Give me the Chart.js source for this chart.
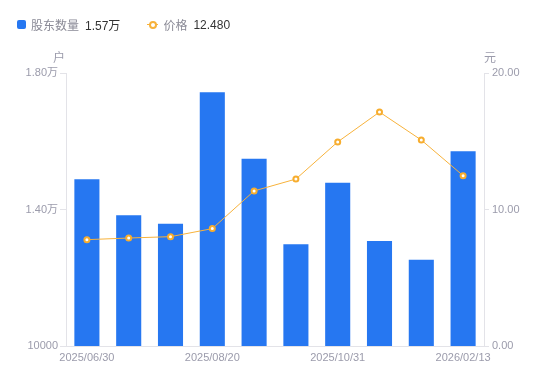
<!DOCTYPE html>
<html><head><meta charset="utf-8">
<script src="https://cdn.jsdelivr.net/npm/chart.js@4/dist/chart.umd.min.js"></script>
<style>
html,body{margin:0;padding:0;background:#fff;}
#wrap{position:relative;width:550px;height:381px;}
#legend{position:absolute;left:17px;top:16px;font-family:'Liberation Sans','Noto Sans CJK SC',sans-serif;font-size:12px;display:flex;align-items:center;white-space:nowrap;}
.item{display:flex;align-items:center;margin-right:27px;}
.sq{width:9px;height:9px;background:#2677f1;border-radius:2px;margin-right:5px;}
.ln{position:relative;width:11px;height:10px;margin-right:5px;}
.ln:before{content:'';position:absolute;left:0;right:0;top:4.5px;height:1px;background:#f7b23b;}
.ln:after{content:'';position:absolute;left:2px;top:1px;width:4px;height:4px;border:2px solid #f7b23b;border-radius:50%;background:#fff;}
.nm{color:#8a8a96;margin-right:6px;}
.vl{color:#333;}
</style></head>
<body><div id="wrap"><div id="legend"></div><canvas id="c" width="550" height="381"></canvas></div>
<script>
const categories = ['2025/06/30','2025/07/10','2025/07/31','2025/08/20','2025/09/10','2025/09/30','2025/10/31','2025/12/10','2026/01/09','2026/02/13'];
const holders = [14885, 13830, 13584, 17434, 15489, 12980, 14786, 13077, 12530, 15705];
const prices = [7.79, 7.91, 8.01, 8.60, 11.36, 12.23, 14.95, 17.14, 15.09, 12.48];
const leftTicks = [10000, 14000, 18000];
const rightTicks = [0, 10, 20];
const seriesNames = ['股东数量', '价格'];
const units = ['户', '元'];

const leg = document.getElementById('legend');
leg.innerHTML =
  '<div class="item"><div class="sq"></div><span class="nm">'+seriesNames[0]+'</span><span class="vl">'+(holders[holders.length-1]/10000).toFixed(2)+'万</span></div>'+
  '<div class="item"><div class="ln"></div><span class="nm">'+seriesNames[1]+'</span><span class="vl">'+prices[prices.length-1].toFixed(3)+'</span></div>';

const gray = '#9b9bab';
const axisColor = '#e3e3e8';
const font = {family:"'Liberation Sans','Noto Sans CJK SC',sans-serif", size:11};

const unitPlugin = {
  id:'units',
  afterDraw(chart){
    const ctx = chart.ctx;
    const yl = chart.scales.yL, yr = chart.scales.yR;
    ctx.save();
    ctx.fillStyle = gray;
    ctx.font = "12px 'Noto Sans CJK SC',sans-serif";
    ctx.textBaseline = 'middle';
    ctx.textAlign = 'center';
    ctx.fillText(units[0], yl.right - 7, 57);
    ctx.fillText(units[1], yr.left + 6, 57);
    ctx.restore();
  }
};

new Chart(document.getElementById('c'), {
  data:{
    labels:categories,
    datasets:[
      {type:'line', label:seriesNames[1], data:prices, yAxisID:'yR', borderColor:'#f7b23b', borderWidth:1,
       pointRadius:2.5, pointBorderWidth:2, pointBackgroundColor:'#fff', pointBorderColor:'#f7ad2e', tension:0, order:0},
      {type:'bar', label:seriesNames[0], data:holders, yAxisID:'yL', backgroundColor:'#2677f1',
       barPercentage:0.6, categoryPercentage:1, order:1}
    ]
  },
  options:{
    responsive:false, animation:false,
    layout:{padding:{top:73, left:0, right:0, bottom:0}},
    plugins:{legend:{display:false}, tooltip:{enabled:false}},
    scales:{
      x:{
        grid:{display:false, drawTicks:false},
        border:{color:axisColor},
        ticks:{color:gray, font:font, autoSkip:false, maxRotation:0, padding:5,
          callback:function(v,i){ return i%3===0 ? categories[i] : ''; }},
        afterFit(s){ s.height = 35; }
      },
      yL:{
        position:'left', min:10000, max:18000,
        afterBuildTicks(s){ s.ticks = leftTicks.map(v=>({value:v})); },
        grid:{drawOnChartArea:false, color:axisColor, tickLength:6},
        border:{color:axisColor},
        ticks:{color:gray, font:font, padding:2,
          callback:function(v){ return v===10000 ? '10000' : (v/10000).toFixed(2)+'万'; }},
        afterFit(s){ s.width = 66; }
      },
      yR:{
        position:'right', min:0, max:20,
        afterBuildTicks(s){ s.ticks = rightTicks.map(v=>({value:v})); },
        grid:{drawOnChartArea:false, color:axisColor, tickLength:5},
        border:{color:axisColor},
        ticks:{color:gray, font:font, padding:3,
          callback:function(v){ return Number(v).toFixed(2); }},
        afterFit(s){ s.width = 66; }
      }
    }
  },
  plugins:[unitPlugin]
});
</script></body></html>
